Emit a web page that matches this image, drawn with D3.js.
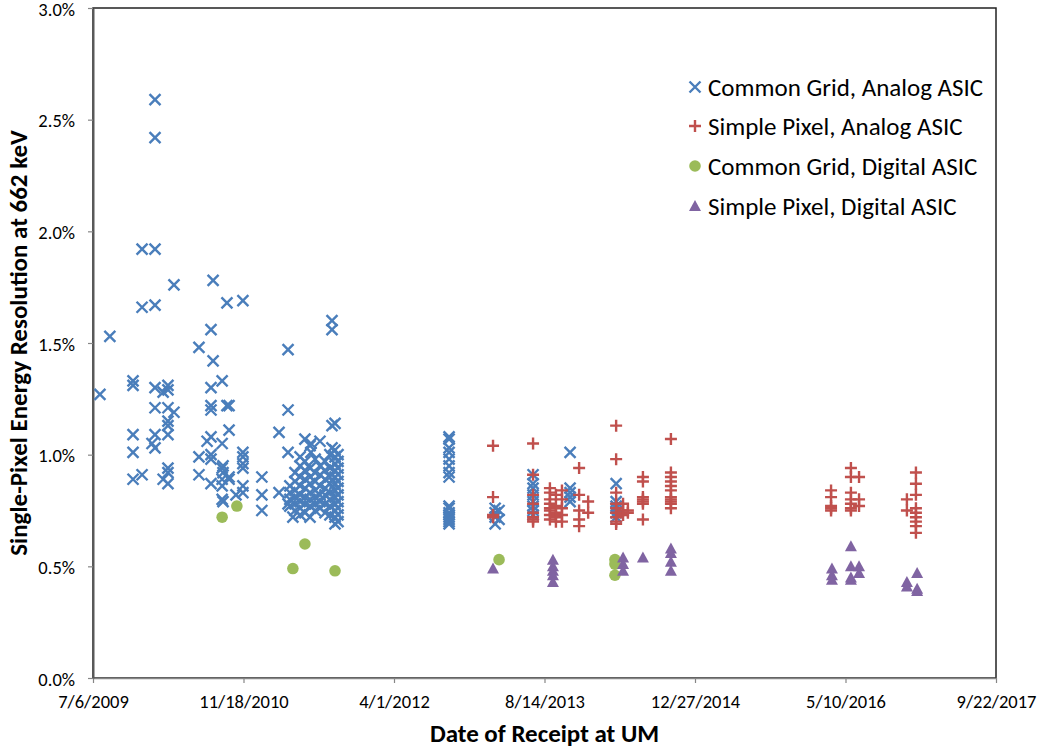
<!DOCTYPE html>
<html><head><meta charset="utf-8">
<script src="https://cdn.jsdelivr.net/npm/d3@7"></script>
<style>
body{margin:0;background:#fff}
text{font-family:Carlito, Calibri, Lato, "Open Sans", sans-serif; fill:#000}
</style>
</head><body>
<svg id="c" width="1047" height="748"></svg>
<script>
// Dates are Excel serial day numbers (40000 = 7/6/2009); values are resolution in %
const xTicks = [40000, 40500, 41000, 41500, 42000, 42500, 43000];
const yTicks = [0, 0.5, 1.0, 1.5, 2.0, 2.5, 3.0];
const seriesNames = ["Common Grid, Analog ASIC", "Simple Pixel, Analog ASIC", "Common Grid, Digital ASIC", "Simple Pixel, Digital ASIC"];

const cgAnalog = [
  [40023,[1.27]],
  [40056,[1.53]],
  [40133,[1.33,1.31,1.09,1.01,0.89]],
  [40163,[1.92,1.66,0.91]],
  [40196,[1.05]],
  [40206,[2.59,2.42,1.92,1.67,1.30,1.21,1.09,1.03]],
  [40233,[1.28,0.89]],
  [40249,[1.31,1.29,1.21,1.15,1.13,1.09,0.94,0.92,0.87]],
  [40269,[1.76,1.19]],
  [40352,[1.48,0.99,0.91]],
  [40379,[1.06]],
  [40392,[1.56,1.30,1.22,1.20,1.08,1.00,0.98,0.87]],
  [40399,[1.78,1.42]],
  [40429,[1.33,1.05,0.94,0.89,0.86,0.80]],
  [40432,[0.95,0.92,0.79]],
  [40445,[1.68,1.22]],
  [40452,[1.22,1.11,0.90,0.89]],
  [40475,[0.82]],
  [40498,[1.69,1.01,0.99,0.96,0.94,0.86,0.83]],
  [40561,[0.90,0.82,0.75]],
  [40618,[1.10,0.83]],
  [40648,[1.47,1.20,1.01,0.78]],
  [40654,[0.86,0.83,0.80,0.77]],
  [40664,[0.72]],
  [40671,[0.92,0.88,0.84,0.81,0.78,0.75]],
  [40688,[0.99,0.95,0.90,0.86,0.82,0.79,0.76,0.73]],
  [40704,[1.07,0.97,0.93,0.89,0.85,0.81,0.78,0.74]],
  [40721,[1.04,0.94,0.90,0.87,0.83,0.80,0.77,0.72]],
  [40724,[1.05,1.01]],
  [40738,[0.98,0.92,0.88,0.84,0.81,0.78,0.75]],
  [40754,[1.06,0.95,0.91,0.86,0.82,0.79,0.76]],
  [40771,[0.97,0.93,0.89,0.85,0.82,0.78,0.74]],
  [40787,[1.00,0.94,0.90,0.87,0.83,0.80,0.77,0.73]],
  [40794,[1.60,1.56,1.13,1.03]],
  [40804,[1.14,1.02,0.99,0.96,0.93,0.90,0.87,0.84,0.81,0.78,0.75,0.72,0.69]],
  [40814,[1.00,0.97,0.94,0.91,0.88,0.85,0.82,0.79,0.76,0.73,0.70]],
  [41183,[1.08,1.07,1.03,1.01,0.98,0.95,0.92,0.90,0.77,0.76,0.74,0.73,0.72,0.71,0.70,0.69]],
  [41336,[0.76,0.74,0.72,0.69]],
  [41349,[0.75,0.71]],
  [41462,[0.91,0.87,0.85,0.82,0.79,0.77,0.75,0.73]],
  [41585,[1.01,0.85,0.83,0.81,0.79]],
  [41738,[0.87,0.79,0.77,0.76,0.74,0.72]]
];
const spAnalog = [
  [41329,[1.04,0.81,0.73,0.72]],
  [41462,[1.05,0.91,0.82,0.78,0.74,0.72,0.71,0.70]],
  [41518,[0.85,0.83,0.80,0.78,0.76,0.75,0.73,0.71]],
  [41538,[0.82,0.77,0.74,0.72,0.70]],
  [41558,[0.84,0.80,0.76,0.73,0.70]],
  [41615,[0.94,0.82,0.75,0.71,0.68]],
  [41645,[0.79,0.74]],
  [41738,[1.13,0.98,0.83,0.78,0.76,0.74,0.72,0.70,0.69]],
  [41761,[0.78,0.75,0.73]],
  [41777,[0.75,0.74]],
  [41827,[0.90,0.88,0.81,0.80,0.79,0.78,0.71]],
  [41920,[1.07,0.92,0.90,0.88,0.86,0.84,0.81,0.80,0.79,0.78,0.76]],
  [42452,[0.84,0.81,0.77,0.76,0.75]],
  [42518,[0.94,0.90,0.83,0.80,0.78,0.76,0.75]],
  [42545,[0.90,0.80,0.77]],
  [42704,[0.80,0.75]],
  [42734,[0.92,0.87,0.82,0.76,0.74,0.72,0.70,0.68,0.65]]
];
const cgDigital = [
  [40429,[0.72]],
  [40478,[0.77]],
  [40664,[0.49]],
  [40704,[0.60]],
  [40804,[0.48]],
  [41349,[0.53]],
  [41734,[0.53,0.51,0.46]]
];
const spDigital = [
  [41329,[0.49]],
  [41528,[0.53,0.50,0.48,0.46,0.43]],
  [41761,[0.54,0.51,0.48]],
  [41827,[0.54]],
  [41920,[0.58,0.56,0.52,0.48]],
  [42455,[0.49,0.46,0.44]],
  [42518,[0.59,0.50,0.45,0.44]],
  [42545,[0.50,0.47]],
  [42704,[0.43,0.41]],
  [42738,[0.47,0.40,0.39]]
];

const colors = ["#4A7EBB", "#C0504D", "#9BBB59", "#8064A2"];
const flat = arr => arr.flatMap(([d, vs]) => vs.map(v => ({d, v})));

const svg = d3.select("#c");
const m = {l: 93, t: 8, r: 996, b: 678};
const x = d3.scaleLinear().domain([40000, 43000]).range([m.l, m.r]);
const y = d3.scaleLinear().domain([0, 3]).range([m.b, m.t]);

const serialToDate = s => new Date(Date.UTC(1899, 11, 30) + s * 864e5);
const fmtDate = s => { const dt = serialToDate(s); return (dt.getUTCMonth()+1) + "/" + dt.getUTCDate() + "/" + dt.getUTCFullYear(); };

// plot area border
svg.append("rect").attr("x", m.l).attr("y", m.t).attr("width", m.r - m.l).attr("height", m.b - m.t)
  .attr("fill", "none").attr("stroke", "#222").attr("stroke-width", 1.5);

// axes
const gx = svg.append("g").attr("transform", `translate(0,${m.b})`)
  .call(d3.axisBottom(x).tickValues(xTicks).tickFormat(fmtDate).tickSize(5).tickSizeOuter(0));
const gy = svg.append("g").attr("transform", `translate(${m.l},0)`)
  .call(d3.axisLeft(y).tickValues(yTicks).tickFormat(d => d.toFixed(1) + "%").tickSize(5).tickSizeOuter(0));
gx.select(".domain").attr("stroke", "#868686").attr("stroke-width", 1.5);
gy.select(".domain").attr("stroke", "#595959").attr("stroke-width", 2);
[gx, gy].forEach(g => {
  g.selectAll(".tick line").attr("stroke", "#868686").attr("stroke-width", 1.2);
  g.selectAll(".tick text").style("font-size", "18.5px").attr("fill", "#000");
});
gx.selectAll(".tick text").attr("y", 12).attr("dy", "0.95em");
gy.selectAll(".tick text").attr("x", -18).attr("dy", "0.38em");

// axis titles
svg.append("text").attr("x", (m.l + m.r) / 2).attr("y", 742).attr("text-anchor", "middle")
  .style("font-size", "25px").style("font-weight", "bold").text("Date of Receipt at UM");
svg.append("text").attr("transform", `translate(27,${(m.t + m.b) / 2}) rotate(-90)`).attr("text-anchor", "middle")
  .style("font-size", "25px").style("font-weight", "bold").text("Single-Pixel Energy Resolution at 662 keV");

// marker drawers
const drawX = (g, cx, cy) => g.append("path").attr("d", `M${cx-5.5},${cy-5.5}L${cx+5.5},${cy+5.5}M${cx-5.5},${cy+5.5}L${cx+5.5},${cy-5.5}`)
  .attr("stroke", colors[0]).attr("stroke-width", 2.4).attr("fill", "none");
const drawPlus = (g, cx, cy) => g.append("path").attr("d", `M${cx-6},${cy}L${cx+6},${cy}M${cx},${cy-6}L${cx},${cy+6}`)
  .attr("stroke", colors[1]).attr("stroke-width", 2.4).attr("fill", "none");
const drawCircle = (g, cx, cy) => g.append("circle").attr("cx", cx).attr("cy", cy).attr("r", 5.8).attr("fill", colors[2]);
const drawTri = (g, cx, cy) => g.append("path").attr("d", `M${cx},${cy-6}L${cx+6},${cy+5}L${cx-6},${cy+5}Z`).attr("fill", colors[3]);
const drawers = [drawX, drawPlus, drawCircle, drawTri];

const plot = svg.append("g");
[cgAnalog, spAnalog, cgDigital, spDigital].forEach((s, i) => {
  const g = plot.append("g");
  flat(s).forEach(p => drawers[i](g, x(p.d), y(p.v)));
});

// legend
const legendY = [87, 126, 166, 206];
const lg = svg.append("g");
seriesNames.forEach((n, i) => {
  drawers[i](lg, 695, legendY[i]);
  lg.append("text").attr("x", 708).attr("y", legendY[i]).attr("dy", "0.36em").style("font-size", "25px").text(n);
});
</script>
</body></html>
